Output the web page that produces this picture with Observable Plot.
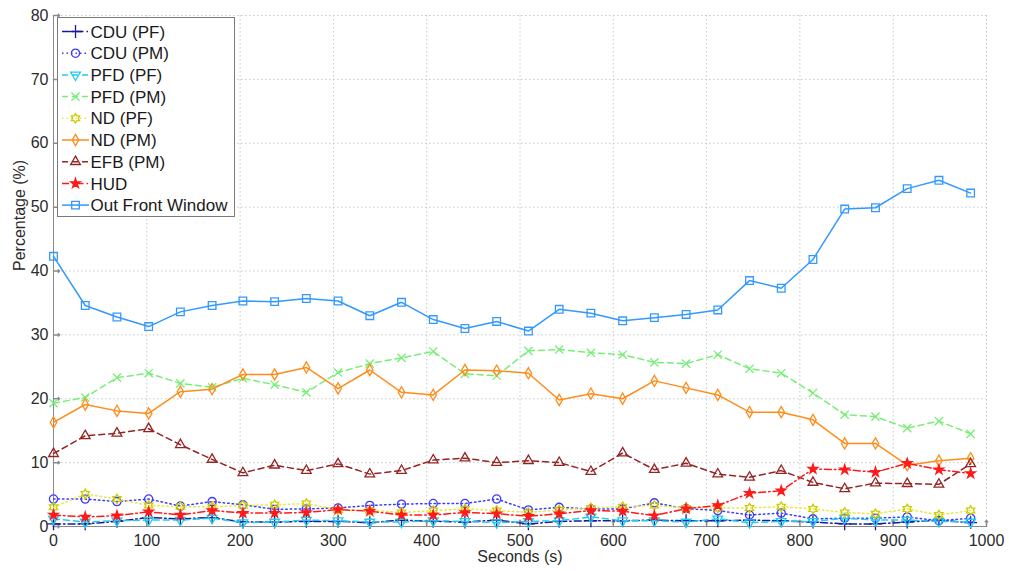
<!DOCTYPE html>
<html><head><meta charset="utf-8">
<script src="https://cdn.jsdelivr.net/npm/d3@7"></script>
<script src="https://cdn.jsdelivr.net/npm/@observablehq/plot@0.6"></script>
<style>
body{margin:0;background:#fff;}
#chart{position:relative;width:1009px;height:571px;font-family:"Liberation Sans",Arial,sans-serif;}
#legend{position:absolute;left:57px;top:17px;}
</style></head><body><div id="chart"></div>
<script>
// ---- data ----
const seconds = [0,34,68,102,136,170,203,237,271,305,339,373,407,441,475,509,542,576,610,644,678,712,746,780,814,848,881,915,949,983];
const cduPF   = [0.4,0.4,0.8,1.4,1.2,1.4,0.7,0.7,0.8,0.8,0.6,1.0,0.8,0.7,1.0,0.4,0.8,0.9,0.9,1.0,0.9,0.9,1.0,0.9,0.7,0.4,0.4,0.7,1.0,0.6];
const cduPM   = [4.3,4.3,3.9,4.3,3.2,3.9,3.4,2.7,2.75,2.9,3.3,3.5,3.6,3.6,4.3,2.6,3.0,2.75,2.75,3.7,2.8,2.5,1.8,2.1,1.2,1.3,1.3,1.5,0.9,1.3];
const pfdPF   = [1.2,0.7,0.9,1.0,1.0,1.3,0.6,0.7,1.0,0.9,0.7,0.7,0.9,0.8,0.6,0.8,0.9,1.5,0.9,0.9,0.7,1.2,0.6,0.8,0.8,1.3,1.0,1.0,0.8,0.7];
const pfdPM   = [19.3,20.2,23.3,24.0,22.4,21.8,23.2,22.2,21.0,24.1,25.5,26.4,27.4,23.9,23.6,27.5,27.7,27.2,26.9,25.7,25.5,26.9,24.7,24.0,20.9,17.5,17.2,15.4,16.5,14.5];
const ndPF    = [3.0,5.1,4.3,3.3,3.1,3.1,3.3,3.4,3.6,2.6,2.5,2.2,2.5,2.75,2.5,2.2,2.6,2.9,3.1,3.3,2.9,2.9,2.9,3.1,2.75,2.2,2.0,2.75,1.8,2.5];
const ndPM    = [16.3,19.1,18.1,17.7,21.1,21.5,23.8,23.8,24.9,21.6,24.5,21.0,20.6,24.5,24.4,24.0,19.8,20.8,20.0,22.8,21.7,20.6,17.9,17.9,16.7,13.0,13.0,9.6,10.3,10.7];
const efbPM   = [11.4,14.2,14.6,15.3,12.8,10.5,8.4,9.6,8.75,9.8,8.2,8.75,10.4,10.7,10.0,10.3,10.0,8.6,11.5,8.9,9.9,8.2,7.7,8.75,6.9,5.9,6.8,6.7,6.6,9.8];
const hud     = [1.8,1.5,1.7,2.3,1.8,2.5,2.1,2.1,2.2,2.65,2.4,1.8,1.8,2.2,2.0,1.6,2.0,2.5,2.4,1.7,2.8,3.3,5.2,5.6,9.0,8.9,8.5,9.9,8.9,8.3];
const ofw     = [42.3,34.6,32.8,31.3,33.6,34.6,35.3,35.2,35.7,35.3,33.0,35.1,32.4,31.0,32.1,30.6,34.0,33.4,32.2,32.7,33.2,33.9,38.5,37.3,41.8,49.7,49.9,52.9,54.2,52.2];
const seriesNames = ["CDU (PF)","CDU (PM)","PFD (PF)","PFD (PM)","ND (PF)","ND (PM)","EFB (PM)","HUD","Out Front Window"];
const seriesValues = [cduPF,cduPM,pfdPF,pfdPM,ndPF,ndPM,efbPM,hud,ofw];
const xTicks = [0,100,200,300,400,500,600,700,800,900,1000];
const yTicks = [0,10,20,30,40,50,60,70,80];
const xLabel = "Seconds (s)";
const yLabel = "Percentage (%)";

// ---- custom symbols ----
const sqrt3 = Math.sqrt(3);
const triangleDown = {draw(ctx, size){const y=-Math.sqrt(size/(sqrt3*3));ctx.moveTo(0,-y*2);ctx.lineTo(-sqrt3*y,y);ctx.lineTo(sqrt3*y,y);ctx.closePath();}};
const hexagram = {draw(ctx, size){const R=Math.sqrt(size/Math.PI)*1.25, r=R/sqrt3;for(let i=0;i<12;i++){const a=-Math.PI/2+i*Math.PI/6, rr=i%2?r:R; i?ctx.lineTo(rr*Math.cos(a),rr*Math.sin(a)):ctx.moveTo(rr*Math.cos(a),rr*Math.sin(a));}ctx.closePath();}};

// ---- styles ----
const DASH="6,4", DOT="1.5,3", DASHDOT="7,3,1.5,3";
const styles = [
  {color:"#1a1a96", dash:DASHDOT, symbol:"plus", fill:"none", r:4.2},
  {color:"#3b3bff", dash:DOT, symbol:"circle", fill:"none", r:4.1},
  {color:"#22ccee", dash:DASH, symbol:triangleDown, fill:"none", r:3.6},
  {color:"#77ee77", dash:DASH, symbol:"times", fill:"none", r:3.8},
  {color:"#cccc00", line:"#e8e840", dash:DOT, symbol:hexagram, fill:"none", r:3.8},
  {color:"#ff8c1a", dash:null, symbol:"diamond", fill:"none", r:3.4},
  {color:"#962424", dash:DASH, symbol:"triangle", fill:"none", r:3.6},
  {color:"#ff1a1a", dash:DASHDOT, symbol:"star", fill:"#ff1a1a", r:3.0},
  {color:"#3399ff", dash:null, symbol:"square", fill:"none", r:4.3}
];

const rows = seriesNames.map((name,i)=>seconds.map((t,k)=>({name, t, v: seriesValues[i][k]})));

const marks = [
  Plot.ruleX(xTicks.filter(d=>d>0), {stroke:"#c8c8c8", strokeDasharray:"1.5,2.5"}),
  Plot.ruleY(yTicks.filter(d=>d>0), {stroke:"#c8c8c8", strokeDasharray:"1.5,2.5"}),
  Plot.ruleX([0], {stroke:"#8a8a8a"}),
  Plot.ruleY([0], {stroke:"#8a8a8a"}),
  Plot.vector(yTicks, {x:0, y:d=>d, length:6, rotate:90, anchor:"start", stroke:"#8a8a8a"}),
  Plot.vector(xTicks, {x:d=>d, y:0, length:6, rotate:0, anchor:"start", stroke:"#8a8a8a"}),
  Plot.axisX({ticks:xTicks, tickSize:0, tickPadding:8, fontSize:16, label:null, color:"#2b2b2b", tickFormat:d=>String(d)}),
  Plot.axisY({ticks:yTicks, tickSize:0, tickPadding:5, fontSize:16, label:null, color:"#2b2b2b", tickFormat:d=>String(d)})
];
rows.forEach((data,i)=>{
  const s = styles[i];
  marks.push(Plot.line(data, {x:"t", y:"v", stroke:s.line||s.color, strokeWidth:1.5, strokeDasharray:s.dash}));
  marks.push(Plot.dot(data, {x:"t", y:"v", symbol:()=>s.symbol, r:s.r, stroke:s.color, fill:s.fill, strokeWidth:1.3}));
});
marks.push(Plot.text([xLabel], {frameAnchor:"bottom", dy:24, lineAnchor:"top", fontSize:16, fill:"#2b2b2b"}));
marks.push(Plot.text([yLabel], {frameAnchor:"left", dx:-34, rotate:-90, fontSize:16, fill:"#2b2b2b"}));

const chart = Plot.plot({
  width:1009, height:571,
  marginLeft:53, marginRight:23, marginTop:15, marginBottom:45,
  x:{domain:[0,1000]},
  y:{domain:[0,80]},
  symbol:{type:"identity"},
  style:{fontFamily:"'Liberation Sans', Arial, sans-serif", fontSize:"16px", background:"#fff"},
  marks
});
const host = document.getElementById("chart");
host.appendChild(chart);

// ---- legend ----
const lw=178, lh=200, rowH=21.7;
const leg = d3.select(host).append("svg").attr("id","legend").attr("width",lw).attr("height",lh);
leg.append("rect").attr("x",0.5).attr("y",0.5).attr("width",lw-1).attr("height",lh-1).attr("fill","#fff").attr("stroke","#7a7a7a");
seriesNames.forEach((name,i)=>{
  const s=styles[i], y=14.5+i*rowH;
  const g=leg.append("g");
  g.append("line").attr("x1",5).attr("x2",32).attr("y1",y).attr("y2",y).attr("stroke",s.line||s.color).attr("stroke-width",1.5).attr("stroke-dasharray",s.dash);
  const typeMap={plus:d3.symbolPlus,circle:d3.symbolCircle,times:d3.symbolTimes,diamond:d3.symbolDiamond,triangle:d3.symbolTriangle,star:d3.symbolStar,square:d3.symbolSquare};
  const type = typeof s.symbol==="string"?typeMap[s.symbol]:s.symbol;
  g.append("path").attr("transform",`translate(18.5,${y})`).attr("d",d3.symbol(type, s.r*s.r*Math.PI)()).attr("fill",s.fill).attr("stroke",s.color).attr("stroke-width",1.3);
  g.append("text").attr("x",33.5).attr("y",y).attr("dy","0.36em").attr("font-size","17px").attr("font-family","'Liberation Sans', Arial, sans-serif").attr("fill","#1a1a1a").text(name);
});
</script></body></html>
